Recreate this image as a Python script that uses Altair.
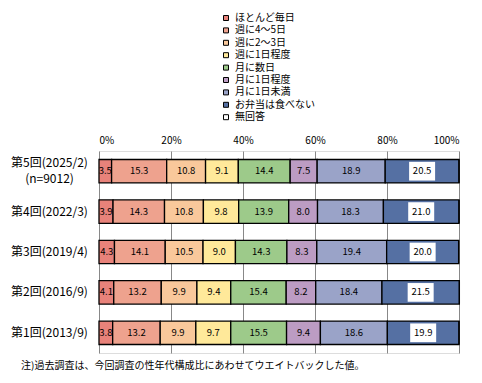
import altair as alt
import pandas as pd

rounds = ["第5回(2025/2)|(n=9012)", "第4回(2022/3)", "第3回(2019/4)", "第2回(2016/9)", "第1回(2013/9)"]
categories = ["ほとんど毎日", "週に4～5日", "週に2～3日", "週に1日程度", "月に数日",
              "月に1日程度", "月に1日未満", "お弁当は食べない", "無回答"]
colors = ["#E8827A", "#EEA28E", "#F9C89B", "#FFE99A", "#9DCA8A",
          "#BC9CC3", "#9AA3C8", "#5570A3", "#FFFFFF"]

r5 = [3.5, 15.3, 10.8, 9.1, 14.4, 7.5, 18.9, 20.5, 0.0]
r4 = [3.9, 14.3, 10.8, 9.8, 13.9, 8.0, 18.3, 21.0, 0.0]
r3 = [4.3, 14.1, 10.5, 9.0, 14.3, 8.3, 19.4, 20.0, 0.0]
r2 = [4.1, 13.2, 9.9, 9.4, 15.4, 8.2, 18.4, 21.5, 0.0]
r1 = [3.8, 13.2, 9.9, 9.7, 15.5, 9.4, 18.6, 19.9, 0.0]
series = [r5, r4, r3, r2, r1]

note = "注)過去調査は、今回調査の性年代構成比にあわせてウエイトバックした値。"
FONT = "Noto Sans CJK JP"

rows = []
for rd, vals in zip(rounds, series):
    for i, (c, v) in enumerate(zip(categories, vals)):
        rows.append({"round": rd, "cat": c, "idx": i, "value": v})
df = pd.DataFrame(rows)

base = alt.Chart(df).transform_stack(
    stack="value", groupby=["round"], as_=["v0", "v1"],
    sort=[alt.SortField("idx", order="ascending")]
).transform_calculate(
    mid="(datum.v0 + datum.v1) / 2",
    lbl="format(datum.value, '.1f')"
)

yenc = alt.Y("round:N", sort=rounds, title=None,
             scale=alt.Scale(paddingInner=0.42, paddingOuter=0.21),
             axis=alt.Axis(labelExpr="split(datum.label, '|')", labelAlign="center",
                           labelBaseline="middle", labelPadding=50, ticks=False, tickSize=0,
                           labelOffset={"condition": {"test": "indexof(datum.value, '|') >= 0",
                                                      "value": -8}, "value": 0},
                           domain=False, labelFontSize=12, labelLineHeight=16,
                           labelFont=FONT, labelColor="black"))

xscale = alt.Scale(domain=[0, 100], nice=False)

bars = base.mark_bar(stroke="black", strokeWidth=1.3).encode(
    x=alt.X("v0:Q", scale=xscale, title=None,
            axis=alt.Axis(orient="top", values=[0, 20, 40, 60, 80, 100],
                          labelExpr="datum.value + '%'", grid=True, gridColor="#888",
                          gridWidth=1, domain=False, ticks=False, tickSize=0,
                          labelPadding=6, labelFontSize=10, labelFont=FONT,
                          labelColor="black")),
    x2="v1:Q",
    y=yenc,
    color=alt.Color("cat:N", sort=categories,
                    scale=alt.Scale(domain=categories, range=colors),
                    legend=alt.Legend(title=None, orient="none", legendX=122, legendY=-138,
                                      symbolType="square", symbolSize=25,
                                      symbolStrokeWidth=1, labelFontSize=10,
                                      labelFont=FONT, labelColor="black",
                                      rowPadding=2.4, labelOffset=4, padding=0)),
)

texts = base.transform_filter("datum.idx < 7").mark_text(
    fontSize=9.5, font=FONT, color="black").encode(
    x=alt.X("mid:Q", scale=xscale), y=alt.Y("round:N", sort=rounds), text="lbl:N")

boxes = base.transform_filter("datum.idx == 7").mark_point(
    shape="M-1,-0.72L1,-0.72L1,0.72L-1,0.72Z", filled=True, fill="white",
    opacity=1, strokeWidth=0, size=676).encode(
    x=alt.X("mid:Q", scale=xscale), y=alt.Y("round:N", sort=rounds))

texts2 = base.transform_filter("datum.idx == 7").mark_text(
    fontSize=9.5, font=FONT, color="black").encode(
    x=alt.X("mid:Q", scale=xscale), y=alt.Y("round:N", sort=rounds), text="lbl:N")

chart = alt.layer(bars, texts, boxes, texts2).properties(
    width=360, height=202,
    autosize=alt.AutoSizeParams(type="none"),
    padding={"left": 91, "top": 143, "right": 15, "bottom": 22},
    title=alt.TitleParams(note, orient="bottom", anchor="start", frame="group", dx=-78,
                          offset=8, fontSize=10, fontWeight="normal", font=FONT,
                          color="black"),
).configure_view(stroke="black", strokeWidth=1.5).configure(background="white")

chart.save("out.html", embed_options={"renderer": "svg", "actions": False})
